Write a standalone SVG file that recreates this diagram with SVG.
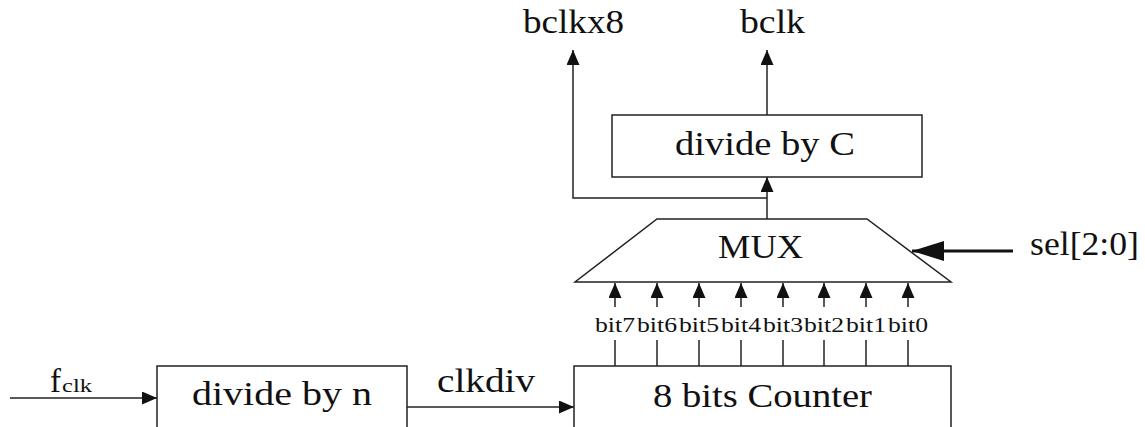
<svg xmlns="http://www.w3.org/2000/svg" width="1145" height="427" viewBox="0 0 1145 427">
<style>
.box{fill:#fff;stroke:#222;stroke-width:1.5}
.ln{fill:none;stroke:#222;stroke-width:1.5}
.t{font-family:'Liberation Serif','Times New Roman',Times,serif;fill:#111}
.big{font-size:33px}
.sm{font-size:20px}
</style>
<defs>
<marker id="ah" markerUnits="userSpaceOnUse" markerWidth="15" markerHeight="13" refX="15" refY="6.5" orient="auto">
<path d="M0,0 L15,6.5 L0,13 z" fill="#111"/>
</marker>
<marker id="ahb" markerUnits="userSpaceOnUse" markerWidth="32" markerHeight="20" refX="32" refY="10" orient="auto">
<path d="M0,0 L32,10 L0,20 z" fill="#111"/>
</marker>
</defs>
<rect width="1145" height="427" fill="#fff"/>
<g id="connectors">
<line class="ln" x1="10" y1="398" x2="157" y2="398" marker-end="url(#ah)"/>
<line class="ln" x1="407" y1="407" x2="574" y2="407" marker-end="url(#ah)"/>
<line class="ln" x1="767" y1="219" x2="767" y2="177" marker-end="url(#ah)"/>
<polyline class="ln" points="767,198 573,198 573,50" marker-end="url(#ah)"/>
<line class="ln" x1="767" y1="115" x2="767" y2="50" marker-end="url(#ah)"/>
<line x1="1013" y1="251" x2="912" y2="251" stroke="#111" stroke-width="3" marker-end="url(#ahb)"/>
<g id="bits">
<line class="ln" x1="615" y1="307" x2="615" y2="283" marker-end="url(#ah)"/>
<line class="ln" x1="657" y1="307" x2="657" y2="283" marker-end="url(#ah)"/>
<line class="ln" x1="699" y1="307" x2="699" y2="283" marker-end="url(#ah)"/>
<line class="ln" x1="741" y1="307" x2="741" y2="283" marker-end="url(#ah)"/>
<line class="ln" x1="783" y1="307" x2="783" y2="283" marker-end="url(#ah)"/>
<line class="ln" x1="824" y1="307" x2="824" y2="283" marker-end="url(#ah)"/>
<line class="ln" x1="866" y1="307" x2="866" y2="283" marker-end="url(#ah)"/>
<line class="ln" x1="908" y1="307" x2="908" y2="283" marker-end="url(#ah)"/>
<line class="ln" x1="615" y1="340" x2="615" y2="366"/>
<line class="ln" x1="657" y1="340" x2="657" y2="366"/>
<line class="ln" x1="699" y1="340" x2="699" y2="366"/>
<line class="ln" x1="741" y1="340" x2="741" y2="366"/>
<line class="ln" x1="783" y1="340" x2="783" y2="366"/>
<line class="ln" x1="824" y1="340" x2="824" y2="366"/>
<line class="ln" x1="866" y1="340" x2="866" y2="366"/>
<line class="ln" x1="908" y1="340" x2="908" y2="366"/>
<g class="t sm" text-anchor="middle">
<text x="615" y="332" textLength="40" lengthAdjust="spacingAndGlyphs">bit7</text>
<text x="657" y="332" textLength="40" lengthAdjust="spacingAndGlyphs">bit6</text>
<text x="699" y="332" textLength="40" lengthAdjust="spacingAndGlyphs">bit5</text>
<text x="741" y="332" textLength="40" lengthAdjust="spacingAndGlyphs">bit4</text>
<text x="783" y="332" textLength="40" lengthAdjust="spacingAndGlyphs">bit3</text>
<text x="824" y="332" textLength="40" lengthAdjust="spacingAndGlyphs">bit2</text>
<text x="866" y="332" textLength="40" lengthAdjust="spacingAndGlyphs">bit1</text>
<text x="908" y="332" textLength="40" lengthAdjust="spacingAndGlyphs">bit0</text>
</g>
</g>
</g>
<g id="fclk">
<text class="t" x="50" y="392" font-size="33">f</text>
<text class="t" x="62" y="392" font-size="19" textLength="30" lengthAdjust="spacingAndGlyphs">clk</text>
</g>
<g id="clkdiv-label">
<text class="t big" x="437" y="392" textLength="98" lengthAdjust="spacingAndGlyphs">clkdiv</text>
</g>
<g id="divn">
<rect class="box" x="157" y="366" width="250" height="80"/>
<text class="t big" x="192" y="405" textLength="180" lengthAdjust="spacingAndGlyphs">divide by n</text>
</g>
<g id="counter">
<rect class="box" x="574" y="366" width="377" height="80"/>
<text class="t big" x="653" y="407" textLength="219" lengthAdjust="spacingAndGlyphs">8 bits Counter</text>
</g>
<g id="mux">
<polygon class="box" points="657,219 867,219 951,282 575,282"/>
<text class="t big" x="718" y="258" textLength="85" lengthAdjust="spacingAndGlyphs">MUX</text>
</g>
<g id="divc">
<rect class="box" x="612" y="115" width="310" height="62"/>
<text class="t big" x="675" y="155" textLength="180" lengthAdjust="spacingAndGlyphs">divide by C</text>
</g>
<g id="sel">
<text class="t big" x="1030" y="255" textLength="109" lengthAdjust="spacingAndGlyphs">sel[2:0]</text>
</g>
<g id="bclkx8">
<text class="t big" x="523" y="33" textLength="101" lengthAdjust="spacingAndGlyphs">bclkx8</text>
</g>
<g id="bclk">
<text class="t big" x="740" y="33" textLength="65" lengthAdjust="spacingAndGlyphs">bclk</text>
</g>
</svg>
